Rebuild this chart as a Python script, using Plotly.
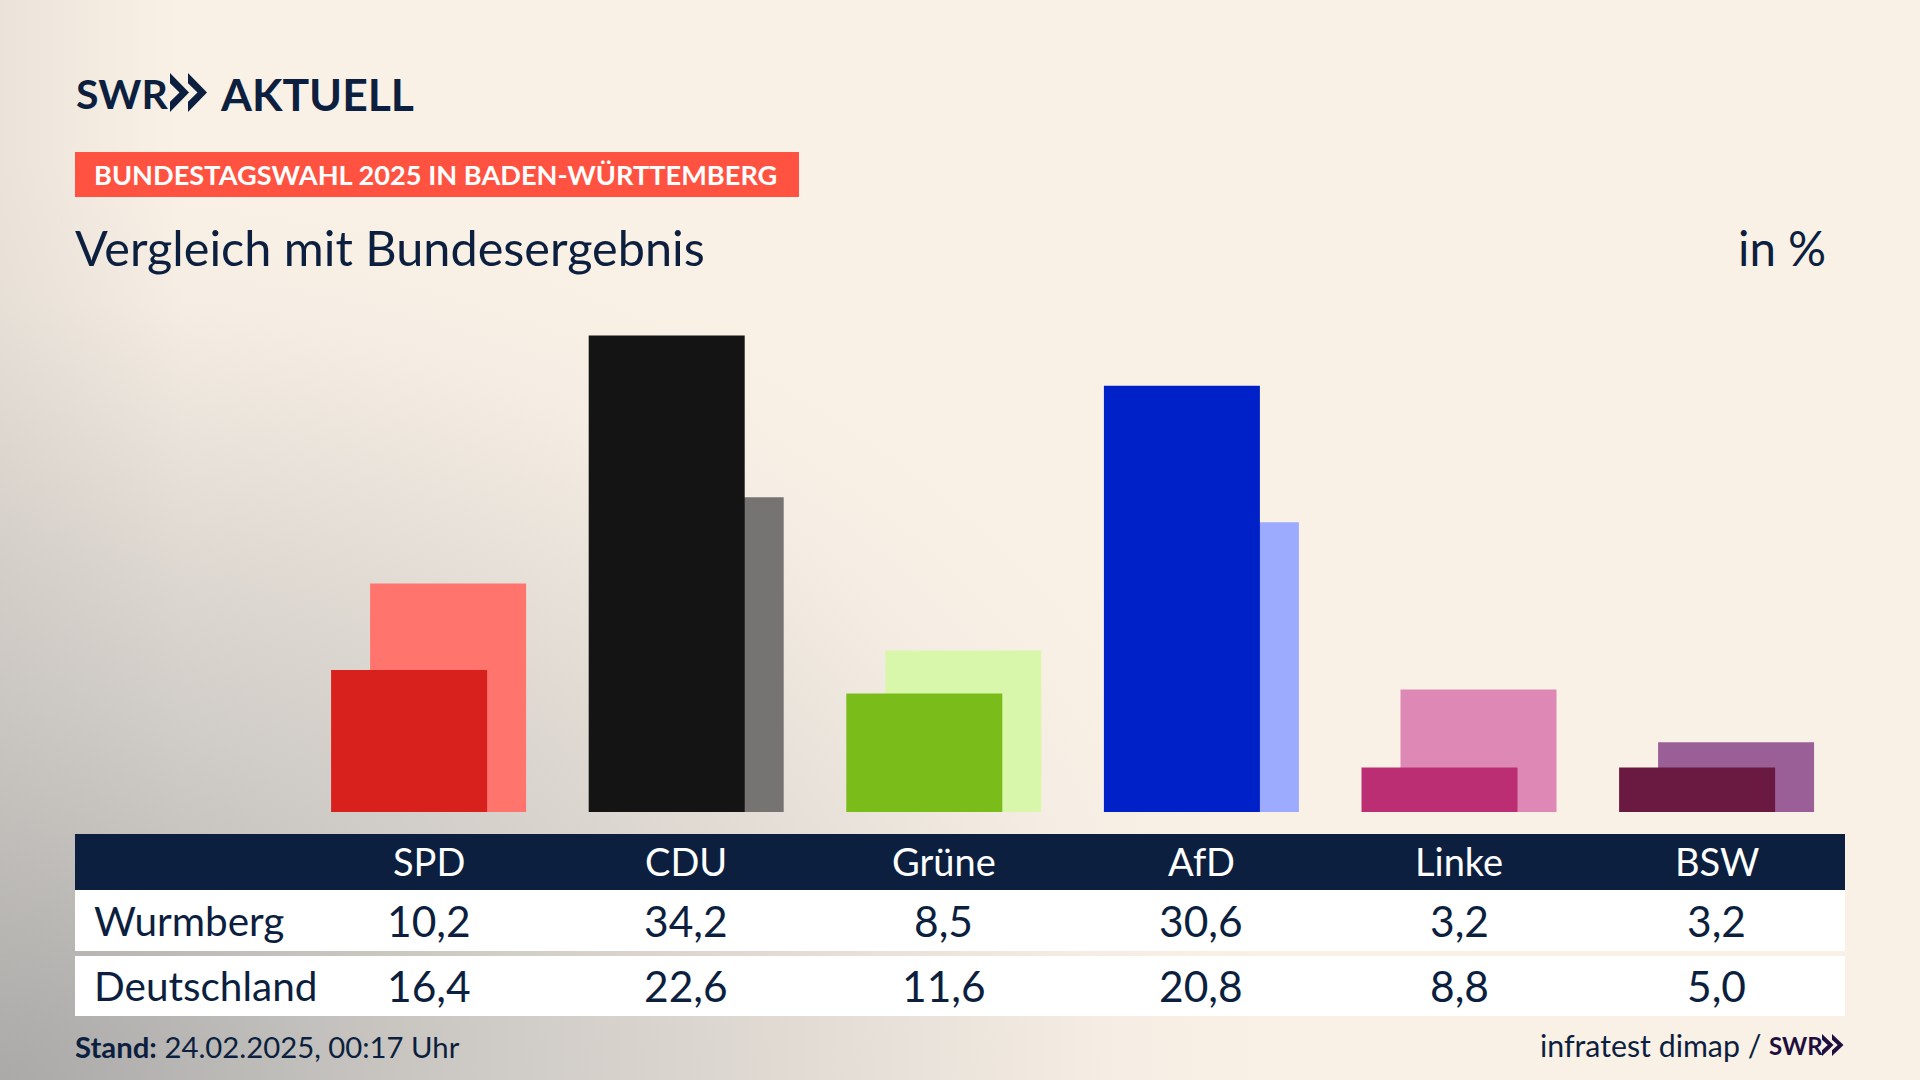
import base64
import plotly.graph_objects as go

parties = ["SPD", "CDU", "Grüne", "AfD", "Linke", "BSW"]
wurmberg = [10.2, 34.2, 8.5, 30.6, 3.2, 3.2]
deutschland = [16.4, 22.6, 11.6, 20.8, 8.8, 5.0]
colors_front = ["#d8201c", "#141414", "#7abd1a", "#0020c8", "#bc2e74", "#6a1a40"]
colors_back = ["#ff746c", "#757472", "#d9f7ab", "#9dabff", "#de88b6", "#9b5f98"]
row_labels = ["Wurmberg", "Deutschland"]

W, H = 1920, 1080
NAVY = "#0c1f3f"
FONT = "Lato"
PX_PER_UNIT = 13.93
BASE = 812
X0 = 428.6
STEP = 257.6
BAR_W = 156.0
SHIFT = 19.5
PAD = 2.5


def px(x):
    return x / W


def py(y):
    return 1 - y / H


svg = f"""<svg xmlns='http://www.w3.org/2000/svg' width='{W}' height='{H}' viewBox='0 0 {W} {H}'>
<defs><radialGradient id='g' gradientUnits='userSpaceOnUse' cx='0' cy='0' r='1'
 gradientTransform='translate(0 {H}) scale(1300 920)'>
<stop offset='0' stop-color='#a9a9a8'/>
<stop offset='0.3' stop-color='#c8c5c1'/>
<stop offset='0.6' stop-color='#e0dad3'/>
<stop offset='0.85' stop-color='#f5ede3'/>
<stop offset='1' stop-color='#faf1e6'/>
</radialGradient>
<linearGradient id='e' x1='0' y1='0' x2='1' y2='0'>
<stop offset='0' stop-color='#b0aca8' stop-opacity='0.2'/>
<stop offset='1' stop-color='#b0aca8' stop-opacity='0'/>
</linearGradient></defs>
<rect width='{W}' height='{H}' fill='url(#g)'/>
<rect width='180' height='{H}' fill='url(#e)'/></svg>"""
bg_uri = "data:image/svg+xml;base64," + base64.b64encode(svg.encode()).decode()

fig = go.Figure()
fig.add_bar(
    x=parties, y=deutschland, name="Deutschland", marker_color=colors_back,
    marker_line_width=0, width=BAR_W / STEP, offset=(SHIFT - BAR_W / 2) / STEP,
)
fig.add_bar(
    x=parties, y=wurmberg, name="Wurmberg", marker_color=colors_front,
    marker_line_width=0, width=BAR_W / STEP, offset=(-SHIFT - BAR_W / 2) / STEP,
)


def rect(x0, y0, x1, y1, color):
    return dict(type="rect", xref="paper", yref="paper", x0=px(x0), x1=px(x1),
                y0=py(y0), y1=py(y1), fillcolor=color, line_width=0, layer="below")


def chevrons(x, ytop, ybot, w, gap, color):
    mid = (ytop + ybot) / 2
    arm = (ybot - ytop) * 0.26
    out = []
    for i in range(2):
        a = x + i * gap
        pts = [(a, ytop), (a + w, mid), (a, ybot), (a, ybot - arm), (a + w * 0.5, mid), (a, ytop + arm)]
        d = "M " + " L ".join(f"{px(p)},{py(q)}" for p, q in pts) + " Z"
        out.append(dict(type="path", xref="paper", yref="paper", path=d, fillcolor=color, line_width=0))
    return out


shapes = [
    rect(75, 152, 799, 197, "#ff5240"),
    rect(75, 834, 1845, 890, NAVY),
    rect(75, 890, 1845, 951, "#ffffff"),
    rect(75, 956, 1845, 1016, "#ffffff"),
]
shapes += chevrons(170, 73, 112, 19, 18, NAVY)
shapes += chevrons(1822, 1034, 1056, 11.5, 10, "#1f0f3f")


def text(x, y, s, size, color=NAVY, anchor="left", family=FONT, xref="paper"):
    if xref == "paper":
        x = px(x + (-PAD if anchor == "left" else PAD if anchor == "right" else 0))
    return dict(
        x=x, y=py(y), xref=xref, yref="paper", text=s, showarrow=False,
        xanchor=anchor, yanchor="middle", align=anchor,
        font=dict(family=family, size=size, color=color),
    )


def fmt(v):
    return f"{v:.1f}".replace(".", ",")


ann = [
    text(76, 93, "<b>SWR</b>", 41),
    text(220, 93, "<b>AKTUELL</b>", 44.5),
    text(94, 175, "<b>BUNDESTAGSWAHL 2025 IN BADEN-WÜRTTEMBERG</b>", 27.2, "#ffffff"),
    text(75, 247, "Vergleich mit Bundesergebnis", 48.6),
    text(1825, 247, "in %", 47.5, anchor="right"),
    text(94, 920, row_labels[0], 40.5),
    text(94, 985, row_labels[1], 40.5),
    text(75, 1046, "<b>Stand:</b> 24.02.2025, 00:17 Uhr", 29.3),
    text(1760, 1045, "infratest dimap /", 30.3, anchor="right"),
    text(1769, 1045, "<b>SWR</b>", 24, "#1f0f3f"),
]
for p, a, b in zip(parties, wurmberg, deutschland):
    ann.append(text(p, 861, p, 38, "#ffffff", "center", xref="x"))
    ann.append(text(p, 920, fmt(a), 42.5, anchor="center", xref="x"))
    ann.append(text(p, 985, fmt(b), 42.5, anchor="center", xref="x"))

fig.update_layout(
    width=W, height=H, autosize=False, showlegend=False, barmode="overlay",
    margin=dict(l=0, r=0, t=0, b=0, pad=0),
    paper_bgcolor="#faf1e6", plot_bgcolor="rgba(0,0,0,0)",
    xaxis=dict(visible=False, type="category", categoryorder="array", categoryarray=parties,
               range=[-X0 / STEP, (W - X0) / STEP], fixedrange=True),
    yaxis=dict(visible=False, domain=[(H - BASE) / H, 1], range=[0, BASE / PX_PER_UNIT], fixedrange=True),
    images=[dict(source=bg_uri, xref="paper", yref="paper", x=0, y=1, sizex=1, sizey=1,
                 sizing="stretch", xanchor="left", yanchor="top", layer="below")],
    shapes=shapes, annotations=ann,
)
fig.write_html("out.html", config=dict(displayModeBar=False),
               post_script="document.body.style.margin='0';")
